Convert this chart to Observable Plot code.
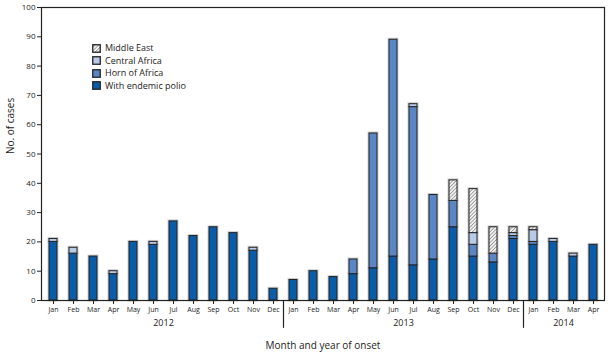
<!DOCTYPE html>
<html>
<head>
<meta charset="utf-8">
<script src="https://cdn.jsdelivr.net/npm/d3@7"></script>
<script src="https://cdn.jsdelivr.net/npm/@observablehq/plot@0.6"></script>
<style>
  body { margin: 0; background: #fff; font-family: "Open Sans", sans-serif; }
  #wrap { position: relative; width: 615px; height: 357px; }
  #legend { position: absolute; left: 92px; top: 42px; font-size: 9px; color: #222; line-height: 12.5px; }
  #legend .item { display: flex; align-items: center; height: 12.5px; }
  #legend svg { margin-right: 4px; }
</style>
</head>
<body>
<div id="wrap"><div id="legend"></div></div>
<script>
const months = [
  "2012-Jan","2012-Feb","2012-Mar","2012-Apr","2012-May","2012-Jun","2012-Jul","2012-Aug","2012-Sep","2012-Oct","2012-Nov","2012-Dec",
  "2013-Jan","2013-Feb","2013-Mar","2013-Apr","2013-May","2013-Jun","2013-Jul","2013-Aug","2013-Sep","2013-Oct","2013-Nov","2013-Dec",
  "2014-Jan","2014-Feb","2014-Mar","2014-Apr"
];
const endemic    = [20,16,15,9,20,19,27,22,25,23,17,4, 7,10,8,9,11,15,12,14,25,15,13,21, 19,20,15,19];
const horn       = [0,0,0,0,0,0,0,0,0,0,0,0, 0,0,0,5,46,74,54,22,9,4,3,1, 1,0,0,0];
const central    = [1,2,0,1,0,1,0,0,0,0,1,0, 0,0,0,0,0,0,1,0,0,4,0,1, 4,1,1,0];
const middleEast = [0,0,0,0,0,0,0,0,0,0,0,0, 0,0,0,0,0,0,0,0,7,15,9,2, 1,0,0,0];

const seriesNames = ["With endemic polio","Horn of Africa","Central Africa","Middle East"];
const seriesColors = ["#0a5ca8","#5a86c6","#b9c9e8","url(#hatch)"];
const years = ["2012","2013","2014"];
const yearCenterMonths = ["2012-Jul","2013-Jul","2014-Mar"];
const yearStartMonths = ["2013-Jan","2014-Jan"];
const yTicks = [0,10,20,30,40,50,60,70,80,90,100];

const seriesValues = [endemic, horn, central, middleEast];
const table = [];
months.forEach((m, i) => {
  seriesNames.forEach((s, j) => {
    table.push({month: m, series: s, value: seriesValues[j][i]});
  });
});

const chart = Plot.plot({
  width: 615,
  height: 357,
  marginLeft: 41,
  marginRight: 11,
  marginTop: 7,
  marginBottom: 57,
  style: {fontFamily: "Open Sans, sans-serif", fontSize: "7px", background: "white", color: "#222"},
  x: {type: "band", domain: months, paddingInner: 0.6, paddingOuter: 0.3},
  y: {domain: [0, 100]},
  color: {type: "ordinal", domain: seriesNames, range: seriesColors},
  marks: [
    Plot.barY(table, {x: "month", y: "value", fill: "none", stroke: "#cfcfcf", strokeWidth: 3}),
    Plot.barY(table, {x: "month", y: "value", fill: "series", stroke: "#222", strokeWidth: 1}),
    Plot.frame({stroke: "#222", strokeWidth: 1.2}),
    Plot.axisY({ticks: yTicks, tickSize: 4, tickPadding: 2, fontSize: 8, label: null}),
    Plot.axisX({tickFormat: d => d.slice(5), tickSize: 4, tickPadding: 3, fontSize: 7, label: null}),
    Plot.text(years, {x: (d, i) => yearCenterMonths[i], frameAnchor: "bottom", dx: -10, dy: 25, fontSize: 9}),
    Plot.ruleX(yearStartMonths, {x: d => d, dx: -10, y1: 0, y2: -9.5, stroke: "#222", strokeWidth: 1.2}),
    Plot.text(["Month and year of onset"], {frameAnchor: "bottom", dy: 48, fontSize: 10}),
    Plot.text(["No. of cases"], {frameAnchor: "left", rotate: -90, dx: -31, fontSize: 10})
  ]
});

d3.select(chart).insert("defs", ":first-child").html(
  '<pattern id="hatch" patternUnits="userSpaceOnUse" width="2.5" height="2.5" patternTransform="rotate(45)">' +
  '<rect width="2.5" height="2.5" fill="#f4f4f4"/><line x1="0" y1="0" x2="0" y2="2.5" stroke="#6e6e6e" stroke-width="1.2"/></pattern>'
);

const wrap = document.getElementById("wrap");
wrap.insertBefore(chart, wrap.firstChild);

const legend = d3.select("#legend");
const legendOrder = ["Middle East","Central Africa","Horn of Africa","With endemic polio"];
legendOrder.forEach(name => {
  const col = seriesColors[seriesNames.indexOf(name)];
  const item = legend.append("div").attr("class", "item");
  const sw = item.append("svg").attr("width", 9).attr("height", 9);
  sw.append("rect").attr("x", 0.75).attr("y", 0.75).attr("width", 7.5).attr("height", 7.5)
    .attr("fill", col).attr("stroke", "#222").attr("stroke-width", 1.3);
  item.append("span").text(name);
});
</script>
</body>
</html>
